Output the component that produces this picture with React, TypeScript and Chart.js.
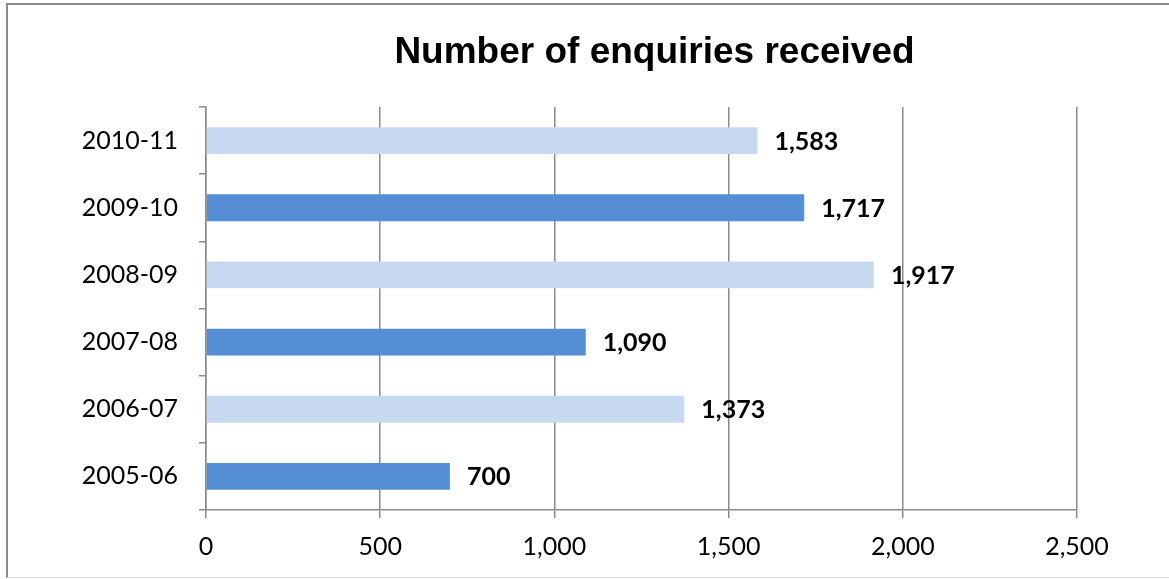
import React, { useEffect, useRef } from "react";
import { Chart, registerables } from "chart.js";

Chart.register(...registerables);

const categories = ["2010-11", "2009-10", "2008-09", "2007-08", "2006-07", "2005-06"];
const enquiries = [1583, 1717, 1917, 1090, 1373, 700];
const barColors = ["#C6D9F1", "#558ED5", "#C6D9F1", "#558ED5", "#C6D9F1", "#558ED5"];
const titleText = "Number of enquiries received";

const GRID = "#8A8A8A";

const labelPlugin = {
  id: "valueLabels",
  afterDatasetsDraw(chart: any) {
    const ctx = chart.ctx;
    const meta = chart.getDatasetMeta(0);
    ctx.save();
    ctx.font = "bold 25px Lato";
    ctx.fillStyle = "#000";
    ctx.textAlign = "left";
    ctx.textBaseline = "middle";
    meta.data.forEach((el: any, i: number) => {
      const v = chart.data.datasets[0].data[i] as number;
      ctx.fillText(v.toLocaleString("en-US"), el.x + 17, el.y + 1);
    });
    ctx.restore();
  },
};

const titlePlugin = {
  id: "customTitle",
  afterDraw(chart: any) {
    const ctx = chart.ctx;
    ctx.save();
    ctx.font = "bold 37px 'Liberation Sans', Arial, sans-serif";
    ctx.fillStyle = "#000";
    ctx.textAlign = "center";
    ctx.textBaseline = "middle";
    ctx.fillText(titleText, 654.5, 53);
    ctx.restore();
  },
};

export default function App() {
  const ref = useRef<HTMLCanvasElement | null>(null);
  useEffect(() => {
    document.body.style.margin = "0";
    const chart = new Chart(ref.current as HTMLCanvasElement, {
      type: "bar",
      data: {
        labels: categories,
        datasets: [
          {
            data: enquiries,
            backgroundColor: barColors,
            borderWidth: 0,
            barPercentage: 0.4,
            categoryPercentage: 1.0,
          },
        ],
      },
      options: {
        indexAxis: "y",
        responsive: false,
        animation: false,
        layout: { padding: { left: 0, top: 107, right: 92, bottom: 19 } },
        plugins: {
          legend: { display: false },
          title: { display: false },
          tooltip: { enabled: false },
        },
        scales: {
          x: {
            min: 0,
            max: 2500,
            ticks: {
              stepSize: 500,
              color: "#000",
              font: { family: "Lato", size: 25 },
              padding: 14,
            },
            grid: {
              color: GRID,
              lineWidth: 1.5,
              tickLength: 8,
              drawTicks: true,
            },
            border: { color: GRID, width: 1.5 },
            afterFit(scale: any) {
              scale.height = 50;
            },
          },
          y: {
            ticks: {
              color: "#000",
              font: { family: "Lato", size: 25 },
              padding: 21,
            },
            grid: {
              drawOnChartArea: false,
              drawTicks: true,
              tickLength: 7,
              color: GRID,
              lineWidth: 1.5,
              offset: true,
            },
            border: { color: GRID, width: 1.5 },
            afterFit(scale: any) {
              scale.width = 206;
            },
          },
        },
      },
      plugins: [labelPlugin, titlePlugin],
    });
    return () => chart.destroy();
  }, []);

  return (
    <div style={{ position: "absolute", left: 0, top: 0, width: 1169, height: 579, overflow: "hidden", background: "#fff" }}>
      <div
        style={{
          position: "absolute",
          left: 6,
          top: 3,
          width: 1200,
          height: 572,
          borderTop: "2px solid #8C8C8C",
          borderLeft: "2px solid #8C8C8C",
          borderBottom: "1px solid #DCDCDC",
        }}
      />
      <canvas ref={ref} width={1169} height={579} style={{ position: "absolute", left: 0, top: 0 }} />
    </div>
  );
}
